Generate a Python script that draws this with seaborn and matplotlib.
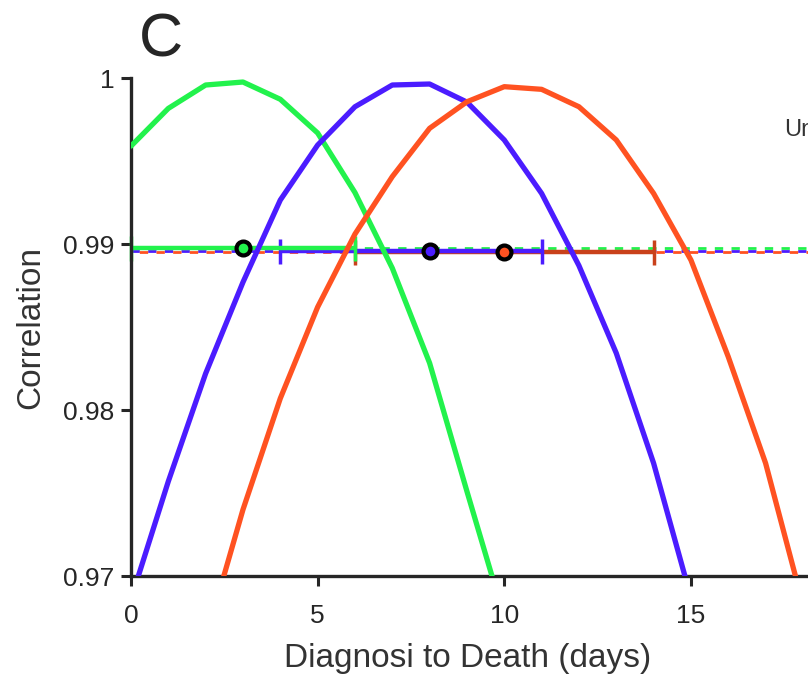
import seaborn as sns
import matplotlib.pyplot as plt
import pandas as pd

# data
green_days = [0, 1, 2, 3, 4, 5, 6, 7, 8, 9, 10]
green_corr = [0.9959, 0.99817, 0.99958, 0.99976, 0.99872, 0.99669, 0.99310,
              0.98855, 0.98283, 0.9751, 0.9675]
blue_days = list(range(0, 16))
blue_corr = [0.9686, 0.9757, 0.9822, 0.9877, 0.99265, 0.99596, 0.99827, 0.99958,
             0.99964, 0.99855, 0.99627, 0.99305, 0.9887, 0.98343, 0.9768, 0.9687]
red_days = list(range(2, 19))
red_corr = [0.9662, 0.9740, 0.9807, 0.9862, 0.9906, 0.99406, 0.99697, 0.99857,
            0.99948, 0.99932, 0.99827, 0.99627, 0.99305, 0.98904, 0.98321, 0.9768, 0.9683]

# best lag, interval and threshold per series
best_day = [3, 8, 10]
ci_low = [0, 4, 6]
ci_high = [6, 11, 14]
threshold = [0.98976, 0.98956, 0.98952]

names = ['green', 'blue', 'red']
colors = {'green': '#22f24c', 'blue': '#4b1cff', 'red': '#ff5221'}
bar_colors = {'green': '#22f24c', 'blue': '#4b1cff', 'red': '#c9411b'}

df = pd.concat([
    pd.DataFrame({'day': green_days, 'corr': green_corr, 'series': 'green'}),
    pd.DataFrame({'day': blue_days, 'corr': blue_corr, 'series': 'blue'}),
    pd.DataFrame({'day': red_days, 'corr': red_corr, 'series': 'red'}),
])

sns.set_style("ticks")
plt.rcParams['font.family'] = ['Liberation Sans', 'DejaVu Sans']

fig = plt.figure(figsize=(8.08, 6.78), dpi=100)
ax = fig.add_axes([0.1621, 0.1504, 0.924, 0.7345])

# threshold lines (dashed, across the whole axis)
ax.axhline(threshold[0], color=colors['green'], lw=2, ls=(0, (3, 3)), zorder=1)
ax.axhline(threshold[1], color=colors['blue'], lw=2, ls=(0, (3, 3)), zorder=1)
ax.axhline(threshold[2], color=colors['red'], lw=2, ls=(3, (3, 3)), zorder=1)

# intervals
for i in [2, 1, 0]:
    n = names[i]
    ax.errorbar([best_day[i]], [threshold[i]],
                xerr=[[best_day[i] - ci_low[i]], [ci_high[i] - best_day[i]]],
                fmt='none', ecolor=bar_colors[n], elinewidth=3.2,
                capsize=9, capthick=2.5, zorder=2 + (2 - i) * 0.1, clip_on=False)

sns.lineplot(data=df, x='day', y='corr', hue='series', palette=colors,
             hue_order=names, lw=3.8, legend=False, ax=ax, zorder=3)

for i in range(3):
    n = names[i]
    ax.plot([best_day[i]], [threshold[i]], 'o', ms=10, mfc=colors[n],
            mec='black', mew=3, zorder=5)

ax.set_xlim(0, 20)
ax.set_ylim(0.97, 1.0)
ax.set_xticks([0, 5, 10, 15])
ax.set_yticks([0.97, 0.98, 0.99, 1.0])
ax.set_yticklabels(['0.97', '0.98', '0.99', '1'])
ax.tick_params(labelsize=19, length=7, width=2.2, color='0.15',
               labelcolor='0.15', direction='out')
ax.tick_params(axis='x', pad=13)
ax.tick_params(axis='y', pad=5)

sns.despine(ax=ax)
for axis in ['left', 'bottom']:
    ax.spines[axis].set_linewidth(2.4)
    ax.spines[axis].set_color('0.15')

ax.set_xlabel('Diagnosi to Death (days)', fontsize=24, color='0.2')
ax.set_ylabel('Correlation', fontsize=24, color='0.2', labelpad=12)
ax.xaxis.set_label_coords((468 / 808 - 0.1621) / 0.924, -0.135)

fig.text(0.172, 0.94, 'C', fontsize=44, va='center', ha='left')
fig.text(0.971, 0.808, 'Un', fontsize=17, color='0.2', va='center', ha='left')

plt.savefig('out.png', dpi=100)
